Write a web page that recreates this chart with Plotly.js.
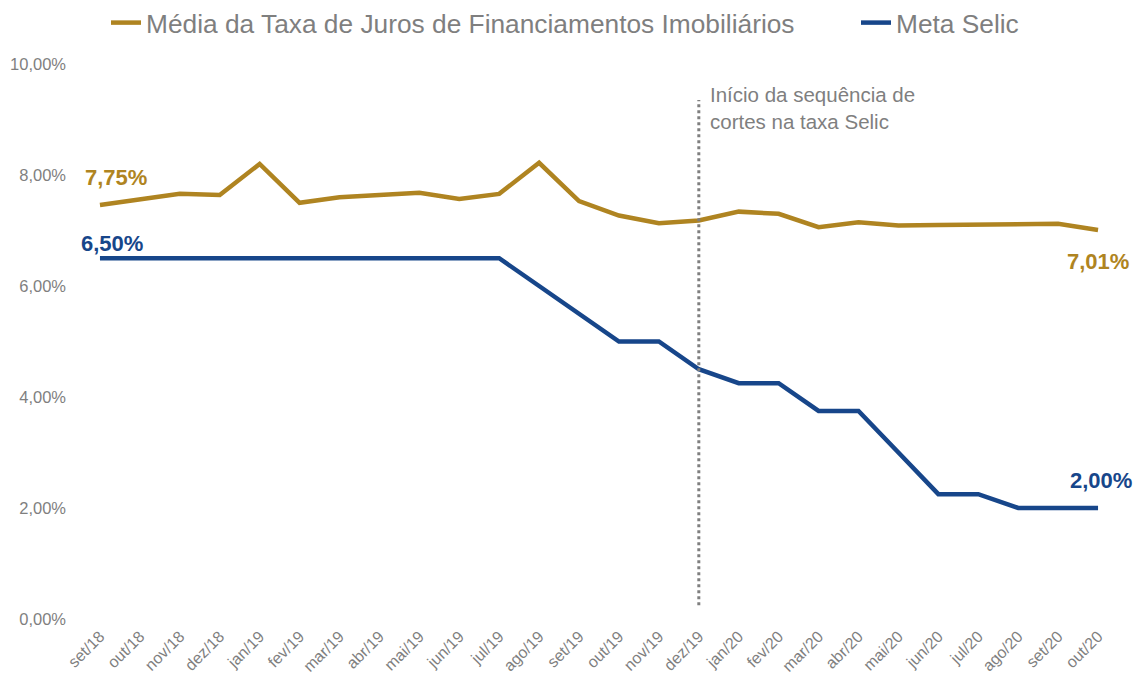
<!DOCTYPE html>
<html>
<head>
<meta charset="utf-8">
<script src="https://cdn.plot.ly/plotly-3.0.1.min.js"></script>
<style>html,body{margin:0;padding:0;background:#fff;}#chart{width:1142px;height:677px;}</style>
</head>
<body>
<div id="chart"></div>
<script>
const months = ["set/18","out/18","nov/18","dez/18","jan/19","fev/19","mar/19","abr/19","mai/19","jun/19","jul/19","ago/19","set/19","out/19","nov/19","dez/19","jan/20","fev/20","mar/20","abr/20","mai/20","jun/20","jul/20","ago/20","set/20","out/20"];
const taxaFinanciamento = [7.46,7.57,7.66,7.64,8.20,7.50,7.60,7.64,7.68,7.57,7.66,8.22,7.53,7.27,7.13,7.18,7.34,7.30,7.06,7.15,7.09,7.10,7.10,7.12,7.12,7.01];
const metaSelic = [6.5,6.5,6.5,6.5,6.5,6.5,6.5,6.5,6.5,6.5,6.5,6.0,5.5,5.0,5.0,4.5,4.25,4.25,3.75,3.75,3.0,2.25,2.25,2.0,2.0,2.0];
const yTickVals = [0,2,4,6,8,10];
const yTickText = ["0,00%","2,00%","4,00%","6,00%","8,00%","10,00%"];
const seriesNames = ["Média da Taxa de Juros de Financiamentos Imobiliários","Meta Selic"];
const gold = "#AF8421", blue = "#17468A", gray = "#7f7f7f";
const cutMonth = "dez/19";
const cutText = "Início da sequência de<br>cortes na taxa Selic";
const FONT = "Liberation Sans, Arial, sans-serif";

const traces = [
  {x: months, y: taxaFinanciamento, name: seriesNames[0], type: "scatter", mode: "lines",
   line: {color: gold, width: 4.5}, legend: "legend"},
  {x: months, y: metaSelic, name: seriesNames[1], type: "scatter", mode: "lines",
   line: {color: blue, width: 4.5}, legend: "legend2"}
];

const fmt = v => v.toFixed(2).replace(".", ",") + "%";
const last = months.length - 1;
const annotations = [
  {x: months[0], y: 7.75, text: "<b>7,75%</b>", showarrow: false, xanchor: "center", yanchor: "middle",
   yshift: 11, xshift: 16, font: {size: 22, color: gold, family: FONT}},
  {x: months[0], y: metaSelic[0], text: "<b>" + fmt(metaSelic[0]) + "</b>", showarrow: false, xanchor: "center", yanchor: "bottom",
   yshift: 0, xshift: 12, font: {size: 22, color: blue, family: FONT}},
  {x: months[last], y: taxaFinanciamento[last], text: "<b>" + fmt(taxaFinanciamento[last]) + "</b>", showarrow: false, xanchor: "center", yanchor: "top",
   yshift: -17, xshift: 0, font: {size: 22, color: gold, family: FONT}},
  {x: months[last], y: metaSelic[last], text: "<b>" + fmt(metaSelic[last]) + "</b>", showarrow: false, xanchor: "center", yanchor: "bottom",
   yshift: 13, xshift: 3, font: {size: 22, color: blue, family: FONT}},
  {x: cutMonth, y: 9.7, text: cutText, showarrow: false, xanchor: "left", yanchor: "top", align: "left",
   xshift: 9, font: {size: 20.5, color: gray, family: FONT}}
];

const legendBase = {orientation: "h", xref: "container", yref: "container", xanchor: "left", yanchor: "middle",
                    y: 1 - 23/677, font: {size: 26.3, color: gray, family: FONT}, itemwidth: 30,
                    bgcolor: "rgba(0,0,0,0)"};

const layout = {
  width: 1142, height: 677,
  margin: {l: 80, r: 24, t: 64, b: 58, autoexpand: false},
  paper_bgcolor: "#fff", plot_bgcolor: "#fff",
  font: {family: FONT, color: gray},
  showlegend: true,
  legend: Object.assign({}, legendBase, {x: 106/1142}),
  legend2: Object.assign({}, legendBase, {x: 856/1142}),
  xaxis: {type: "category", range: [-0.5, 25.5], showgrid: false, zeroline: false, showline: false,
          tickangle: -45, tickfont: {size: 16, color: gray}, ticks: "", ticklabelstandoff: 4},
  yaxis: {range: [0, 10], showgrid: false, zeroline: false, showline: false,
          tickvals: yTickVals, ticktext: yTickText, tickfont: {size: 16.5, color: gray},
          ticklabelstandoff: 13, ticks: ""},
  shapes: [{type: "line", xref: "x", yref: "y", x0: cutMonth, x1: cutMonth, y0: 0.25, y1: 9.35,
            line: {color: "#7f7f7f", width: 3, dash: "dot"}}],
  annotations: annotations
};

Plotly.newPlot("chart", traces, layout, {displayModeBar: false, staticPlot: true});
</script>
</body>
</html>
